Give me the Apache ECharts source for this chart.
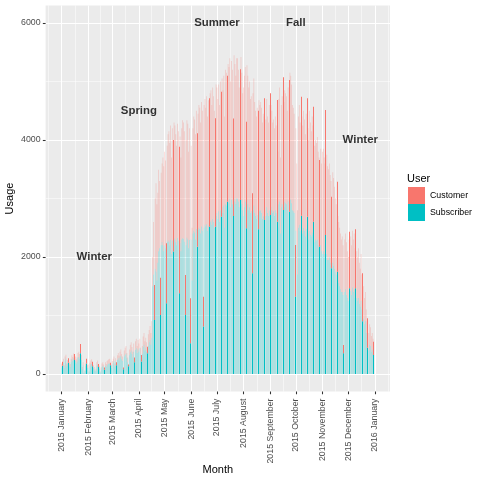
<!DOCTYPE html>
<html><head><meta charset="utf-8">
<script src="https://cdn.jsdelivr.net/npm/echarts@6/dist/echarts.min.js"></script>
<style>html,body{margin:0;padding:0;background:#fff}#c{width:480px;height:480px}</style>
</head><body><div id="c"></div>
<script>
// Daily usage, 2015 (day 0 = 2015-01-01)
const subJan = [110,140,190,100,230,260,130,180,193,150,120,200,250,220,270,240,220,180,210,280,290,260,353,240,80,150,15,45,140,180,100];
const cusJan = [70,70,70,50,70,70,50,60,75,50,50,60,70,70,80,102,80,70,70,80,90,80,160,90,40,50,5,15,40,80,50];
const subFeb = [110,25,130,160,170,130,100,80,40,60,140,160,120,90,25,70,120,140,110,70,140,120,150,170,180,180,150,100];
const cusFeb = [50,15,60,70,80,80,50,40,20,30,60,70,50,40,15,40,60,60,50,40,60,50,70,70,70,80,40,50];
const subMar = [160,190,220,130,200,150,240,270,230,280,310,250,220,80,300,330,350,270,200,130,320,370,400,340,280,380,200,410,440,360,420];
const cusMar = [60,70,80,50,70,50,80,90,80,100,110,90,80,30,100,120,130,90,80,30,100,130,140,120,100,140,80,150,160,120,160];
const subApr = [380,440,330,211,340,460,500,400,450,380,354,480,540,580,500,620,1500,1700,923,1800,1750,1600,1900,2100,2150,1009,2200,2250,2200,2100];
const cusApr = [140,160,120,114,140,180,200,160,170,160,113,200,210,240,200,280,500,900,599,1200,1510,1300,1200,1390,1150,638,1240,1350,1500,1450];
const subMay = [2200,2150,1208,2250,2280,2260,2200,2300,2050,2280,2092,2320,2300,2250,2200,2330,2280,1379,2240,2100,2300,2320,2310,2260,1009,2200,2330,2300,2150,2290,525];
const cusMay = [1600,1500,1026,1650,1820,1890,1750,1950,1650,1920,1908,1980,1950,1850,1700,1950,1870,2507,1820,1600,1900,2020,1990,1890,684,1800,2010,1980,1650,1910,769];
const subJun = [2300,1600,2400,2450,2420,2300,2480,2177,2460,2500,2480,2400,2520,2450,810,2500,2550,2520,2560,2450,2540,2519,2600,2620,2550,2650,2600,2500,2519,2700];
const cusJun = [1600,900,1800,1950,1930,1800,2020,1937,1990,2100,2070,1900,2130,2050,512,2100,2150,2030,2190,1950,2140,2194,2200,2230,2050,2250,2150,2000,1852,2250];
const subJul = [2750,2650,2780,2600,2800,2690,2850,2750,2880,2500,2900,2880,2946,2950,2920,3000,2850,2980,2900,2700,3000,2950,2900,3000,3000,2950,2850,2974,3000,2900,2800];
const cusJul = [2150,2050,2170,2000,2200,2137,2200,2100,2220,1900,2300,2270,2154,2350,2330,2400,2150,2370,2300,1670,2450,2350,2200,2400,2400,2250,2050,2236,2420,2250,2000];
const subAug = [2700,2850,2950,2490,2980,2900,2800,2850,2750,2780,1720,2800,2880,2750,2700,2650,2720,2473,2800,2780,2800,2750,2650,2700,2680,2632,2700,2850,2750,2700,2800];
const cusAug = [2200,2250,2300,1824,2300,2200,2100,2150,1950,1970,1369,2000,2170,1900,1800,1750,1830,2027,1880,1820,1850,1800,1650,1750,1720,2081,1650,1850,1650,1600,1800];
const subSep = [2718,2850,2800,2750,2780,2700,2800,2750,2604,2500,2900,2950,2400,2850,2900,2803,2850,2950,2920,2900,2800,2950,2775,3000,2980,2920,2800,2780,2750,1322];
const cusSep = [2080,1750,1700,1550,1570,1500,1600,1500,2080,1300,1800,1950,1300,1750,1850,2269,1800,1900,1880,1850,1700,1950,2250,2150,2120,2030,1800,1770,1700,883];
const subOct = [2450,2200,1700,2500,2550,2450,2706,2450,2400,2500,2450,2350,2480,2689,2400,2300,2450,2380,2350,2420,2380,2604,2250,2300,2280,2300,2200,2150,2176,2200,2100];
const cusOct = [1750,1400,1100,1900,2050,1850,2034,1950,1850,2000,1900,1750,1970,2023,1800,1700,2050,1920,1800,1980,1870,1965,1650,1700,1670,1750,1600,1550,1482,1650,1500];
const subNov = [2050,2100,2050,2000,2376,2050,1950,1950,2000,1900,1850,1806,1900,1850,1800,1750,1700,1749,1600,1550,1500,1450,1400,1400,1350,353,1400,1450,1350,1300];
const cusNov = [1750,1750,1650,1600,2136,1700,1600,1550,1600,1500,1450,1225,1550,1500,1400,1250,1200,1538,1100,1050,1000,950,900,950,850,142,900,950,900,800];
const subDec = [1250,1400,1464,1420,1350,1480,1400,1450,1300,1464,1300,1250,1300,1200,1150,1250,1100,900,950,850,900,700,550,450,400,500,480,380,420,350,325];
const cusDec = [750,900,969,930,850,970,900,950,850,1009,800,750,850,700,650,800,600,820,550,450,500,400,350,501,300,350,320,270,280,250,227];

// days drawn in full colour (day index)
const highlightDays = [1,8,15,22,29,36,43,50,57,64,72,78,85,93,100,108,115,122,130,137,144,150,158,165,172,179,186,193,200,208,215,222,229,237,243,251,258,265,272,279,286,294,301,308,315,321,329,336,343,351,357,364];

const monthLabels = ['2015 January','2015 February','2015 March','2015 April','2015 May','2015 June','2015 July','2015 August','2015 September','2015 October','2015 November','2015 December','2016 January'];
const yTicks = [0,2000,4000,6000];
const yMinor = [1000,3000,5000];
const seriesNames = ['Customer','Subscriber'];
const seasonLabels = ['Winter','Spring','Summer','Fall','Winter'];
const seasonDay = [38,90,181,273,348];
const seasonY = [2000,4500,6000,6000,4000];

const subscriber = [].concat(subJan,subFeb,subMar,subApr,subMay,subJun,subJul,subAug,subSep,subOct,subNov,subDec);
const customer = [].concat(cusJan,cusFeb,cusMar,cusApr,cusMay,cusJun,cusJul,cusAug,cusSep,cusOct,cusNov,cusDec);
const nDays = subscriber.length;
const DAY = 86400000, t0 = Date.UTC(2015,0,1);
const monthPos = monthLabels.map((_, k) => (Date.UTC(2015, k, 1) - t0) / DAY);
const minorPos = [];
for (let k = 0; k < monthPos.length - 1; k++) minorPos.push((monthPos[k] + monthPos[k+1]) / 2);
minorPos.unshift(monthPos[0] - (monthPos[1] - monthPos[0]) / 2);
const nM = monthPos.length;
minorPos.push(monthPos[nM-1] + (monthPos[nM-1] - monthPos[nM-2]) / 2);
const barW = 0.9;
const spanX = (nDays - 1 + barW);
const xMin = -barW/2 - 0.05*spanX, xMax = nDays - 1 + barW/2 + 0.05*spanX;
const yMax = Math.max.apply(null, seasonY.concat(subscriber.map((s,i)=>s+customer[i])));
const yMin = -0.05*yMax, yTop = yMax*1.05;

const hlSet = new Set(highlightDays);
const subData = subscriber.map((s,i) => [i, 0, s, hlSet.has(i) ? 1 : 0]);
const cusData = customer.map((c,i) => [i, subscriber[i], subscriber[i] + c, hlSet.has(i) ? 1 : 0]);

const FADE = 0.3;
function makeRender(rgb) {
  return function (params, api) {
    const i = api.value(0), lo = api.value(1), hi = api.value(2), hl = api.value(3);
    const pLo = api.coord([i, lo]), pHi = api.coord([i, hi]);
    const w = api.size([barW, 0])[0];
    let x, width, fill;
    if (hl) { x = Math.floor(pLo[0]); width = 1; fill = 'rgb(' + rgb + ')'; }
    else { x = pLo[0] - w/2; width = w; fill = 'rgba(' + rgb + ',' + FADE + ')'; }
    return { type: 'rect', shape: { x: x, y: pHi[1], width: width, height: pLo[1] - pHi[1] },
             style: { fill: fill }, z2: hl ? 10 : 0 };
  };
}

const font = "'Liberation Sans', Arial, Helvetica, sans-serif";
const chart = echarts.init(document.getElementById('c'), null, {renderer: 'canvas'});
chart.setOption({
  animation: false,
  textStyle: { fontFamily: font },
  title: { text: 'User', left: 407, top: 173, padding: 0, textStyle: { fontSize: 11, fontWeight: 'normal', color: '#000', fontFamily: font } },
  legend: { data: seriesNames, orient: 'vertical', left: 408, top: 187, itemWidth: 17, itemHeight: 17, itemGap: 0, padding: 0,
            icon: 'rect', textStyle: { fontSize: 8.8, color: '#000', fontFamily: font }, selectedMode: false },
  grid: { left: 45.6, right: 90, top: 5.5, bottom: 88.5, show: true, backgroundColor: '#EBEBEB', borderWidth: 0,
          containLabel: false, outerBoundsMode: 'none' },
  xAxis: [{
    type: 'value', min: xMin, max: xMax,
    name: 'Month', nameLocation: 'middle', nameGap: 73, nameMoveOverlap: false,
    nameTextStyle: { fontSize: 11, color: '#000', fontFamily: font },
    axisLine: { show: false, onZero: false },
    axisTick: { show: true, length: 2.75, customValues: monthPos, lineStyle: { color: '#333333', width: 1.07 } },
    axisLabel: { show: true, rotate: 90, margin: 7, fontSize: 8.8, color: '#4D4D4D', customValues: monthPos,
                 formatter: v => monthLabels[monthPos.indexOf(v)] || '' },
    splitLine: { show: true, lineStyle: { color: '#FFFFFF', width: 1.07 } }
  }, {
    type: 'value', min: xMin, max: xMax, position: 'bottom',
    axisLine: { show: false, onZero: false }, axisLabel: { show: false },
    axisTick: { show: false, customValues: minorPos },
    splitLine: { show: true, lineStyle: { color: '#FFFFFF', width: 0.53 } }
  }],
  yAxis: [{
    type: 'value', min: yMin, max: yTop,
    name: 'Usage', nameLocation: 'middle', nameGap: 30, nameMoveOverlap: false,
    nameTextStyle: { fontSize: 11, color: '#000', fontFamily: font },
    axisLine: { show: false, onZero: false },
    axisTick: { show: true, length: 2.75, customValues: yTicks, lineStyle: { color: '#333333', width: 1.07 } },
    axisLabel: { show: true, margin: 5, fontSize: 8.8, color: '#4D4D4D', customValues: yTicks, formatter: v => String(v) },
    splitLine: { show: true, lineStyle: { color: '#FFFFFF', width: 1.07 } }
  }, {
    type: 'value', min: yMin, max: yTop, position: 'left',
    axisLine: { show: false, onZero: false }, axisLabel: { show: false },
    axisTick: { show: false, customValues: yMinor },
    splitLine: { show: true, lineStyle: { color: '#FFFFFF', width: 0.53 } }
  }],
  series: [
    { name: seriesNames[1], type: 'custom', renderItem: makeRender('0,191,196'), data: subData,
      itemStyle: { color: '#00BFC4' }, silent: true, clip: true, encode: { x: 0, y: [1, 2] } },
    { name: seriesNames[0], type: 'custom', renderItem: makeRender('248,118,109'), data: cusData,
      itemStyle: { color: '#F8766D' }, silent: true, clip: true, encode: { x: 0, y: [1, 2] } },
    { type: 'scatter', data: seasonLabels.map((t,k) => ({ name: t, value: [seasonDay[k], seasonY[k]] })),
      symbolSize: 0.01, itemStyle: { color: 'rgba(0,0,0,0)' }, silent: true, z: 5,
      label: { show: true, position: 'inside', formatter: p => p.name, fontSize: 11.4, fontWeight: 'bold', color: '#000', fontFamily: font } }
  ]
});
</script>
</body></html>
